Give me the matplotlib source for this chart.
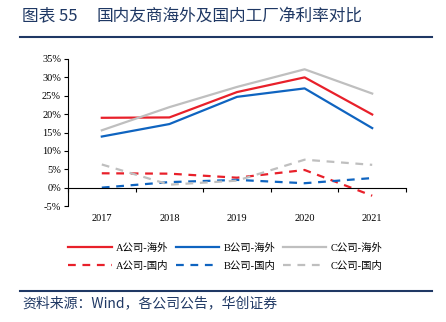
import matplotlib
matplotlib.use("Agg")
import matplotlib.pyplot as plt
from matplotlib.lines import Line2D
import numpy as np

years = ["2017", "2018", "2019", "2020", "2021"]
a_overseas = [19.0, 19.1, 26.0, 30.0, 19.9]
b_overseas = [13.9, 17.3, 24.7, 27.0, 16.2]
c_overseas = [15.6, 21.9, 27.4, 32.2, 25.6]
a_domestic = [3.9, 3.8, 2.7, 4.8, -2.2]
b_domestic = [0.0, 1.5, 2.1, 1.2, 2.6]
c_domestic = [6.3, 0.8, 1.9, 7.6, 6.2]
yticks = [-5, 0, 5, 10, 15, 20, 25, 30, 35]

RED = "#E8202A"
BLUE = "#0F64C0"
GRAY = "#BFBFBF"
NAVY = "#1F3864"

serif = ["Liberation Serif", "Noto Sans CJK SC"]
cjk = ["Noto Sans CJK SC", "Liberation Serif"]

fig = plt.figure(figsize=(4.46, 3.22), dpi=100)
ax = fig.add_axes([68/446, 1-206/322, (406-68)/446, (206-59)/322])

x = np.arange(len(years))
lw = 1.6
dash = (0, (3.5, 3.0))
series = [
    (a_overseas, RED, "-", "A公司-海外"),
    (a_domestic, RED, dash, "A公司-国内"),
    (b_overseas, BLUE, "-", "B公司-海外"),
    (b_domestic, BLUE, dash, "B公司-国内"),
    (c_overseas, GRAY, "-", "C公司-海外"),
    (c_domestic, GRAY, dash, "C公司-国内"),
]
handles = []
for vals, col, ls, lab in series:
    h, = ax.plot(x, vals, color=col, linestyle=ls, linewidth=lw, label=lab)
    handles.append(h)

ax.set_xlim(-0.5, len(years) - 0.5)
ax.set_ylim(-5, 35)
ax.set_yticks(yticks)
ax.set_yticklabels([f"{v}%" for v in yticks], fontfamily=serif, fontsize=7.5)
ax.spines["top"].set_visible(False)
ax.spines["right"].set_visible(False)
ax.spines["left"].set_linewidth(0.8)
ax.spines["bottom"].set_position(("data", 0))
ax.spines["bottom"].set_linewidth(0.8)
ax.tick_params(axis="y", length=3, width=0.8, pad=2)
ax.set_xticks(np.arange(len(years) + 1) - 0.5)
ax.set_xticklabels([])
ax.tick_params(axis="x", length=3, width=0.8, direction="out")
for i, yr in enumerate(years):
    ax.text(i, -7.2, yr, ha="center", va="top", fontfamily=serif, fontsize=7.5)

leg = fig.legend(handles=handles, labels=[s[3] for s in series], ncol=3,
                 loc="center", bbox_to_anchor=(0.505, 1-257/322), frameon=False,
                 prop={"family": serif, "size": 7.5}, handlelength=4.2,
                 handletextpad=0.4, columnspacing=0.7, labelspacing=0.75)

fig.text(22/446, 1-16/322, "图表 55", fontfamily=cjk, fontsize=12, color=NAVY,
         fontweight="medium", va="center", ha="left")
fig.text(97/446, 1-16/322, "国内友商海外及国内工厂净利率对比", fontfamily=cjk,
         fontsize=12, color=NAVY, fontweight="medium", va="center", ha="left")
fig.add_artist(Line2D([20/446, 432/446], [1-37/322, 1-37/322], color=NAVY, lw=1.5))
fig.add_artist(Line2D([20/446, 432/446], [1-291/322, 1-291/322], color=NAVY, lw=1.5))
fig.text(22/446, 1-303/322, "资料来源：Wind，各公司公告，华创证券", fontfamily=cjk,
         fontsize=10, color=NAVY, style="italic", va="center", ha="left")

fig.savefig("out.png", dpi=100)
